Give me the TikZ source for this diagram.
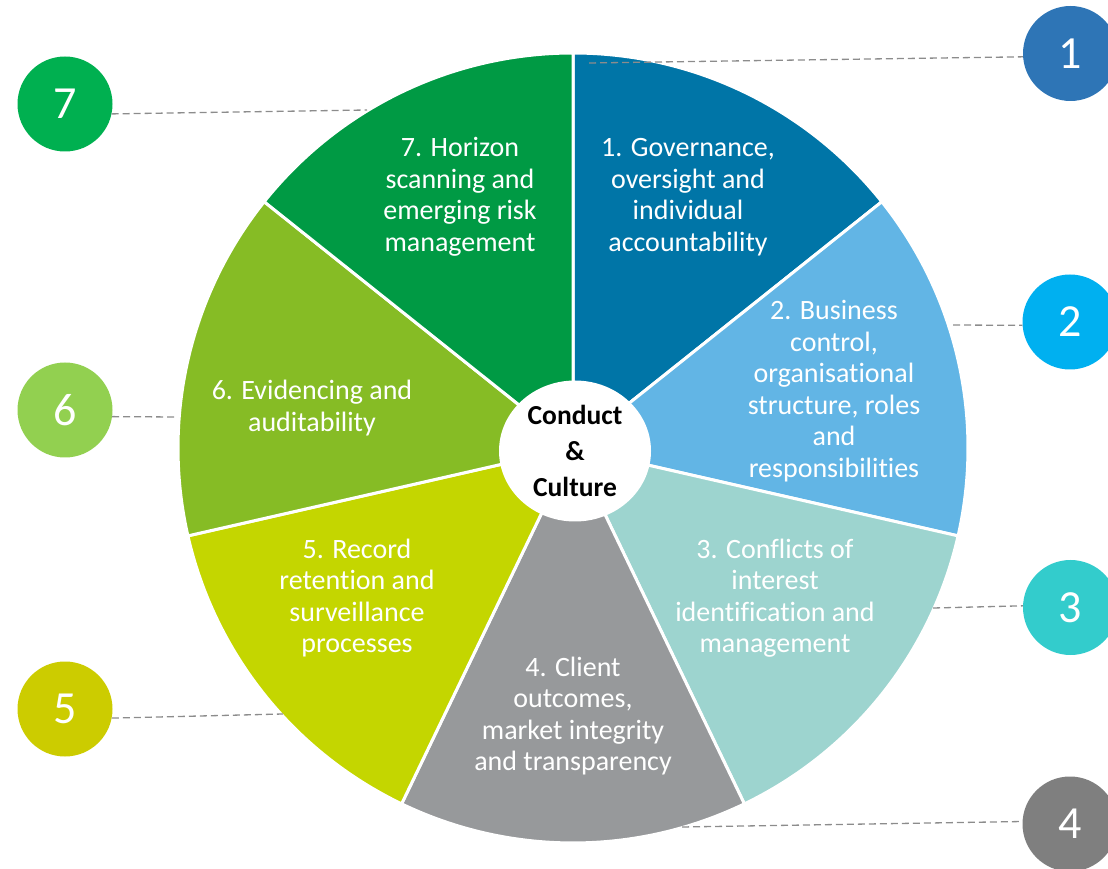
\documentclass[tikz,border=0pt]{standalone}
\usepackage{fontspec}
\setmainfont{Carlito}[Ligatures=NoCommon]
\usetikzlibrary{shapes.geometric}

% wedge colours
\definecolor{wedgeA}{HTML}{0075A7}
\definecolor{wedgeB}{HTML}{62B5E5}
\definecolor{wedgeC}{HTML}{9DD4CF}
\definecolor{wedgeD}{HTML}{97999B}
\definecolor{wedgeE}{HTML}{C4D600}
\definecolor{wedgeF}{HTML}{86BC25}
\definecolor{wedgeG}{HTML}{009A44}
% number badge colours
\definecolor{badgeA}{HTML}{2E75B6}
\definecolor{badgeB}{HTML}{00B0F0}
\definecolor{badgeC}{HTML}{33CCCC}
\definecolor{badgeD}{HTML}{7F7F7F}
\definecolor{badgeE}{HTML}{CCCC00}
\definecolor{badgeF}{HTML}{92D050}
\definecolor{badgeG}{HTML}{00B050}
\definecolor{leadgray}{HTML}{8C8C8C}

\begin{document}
\begin{tikzpicture}[x=1pt,y=1pt,
  pieslice/.style={draw=white, line width=3pt, line join=round},
  segtext/.style={text=white, align=center, inner sep=0pt,
    font=\fontsize{28}{31.5}\selectfont},
  badge/.style={circle, minimum size=95pt, inner sep=0pt, text=white,
    font=\fontsize{46}{50}\selectfont},
  leader/.style={draw=leadgray, line width=1.3pt, dash pattern=on 7pt off 4pt}]

\useasboundingbox (0,0) rectangle (1108,868);
\clip (0,0) rectangle (1108,868);

% pie of seven equal wedges
\coordinate (P) at (573,420);
\path[pieslice, fill=wedgeA] (P) -- ++(38.571:395pt) arc[start angle=38.571, end angle=90, radius=395pt] -- cycle;
\path[pieslice, fill=wedgeB] (P) -- ++(-12.857:395pt) arc[start angle=-12.857, end angle=38.571, radius=395pt] -- cycle;
\path[pieslice, fill=wedgeC] (P) -- ++(-64.286:395pt) arc[start angle=-64.286, end angle=-12.857, radius=395pt] -- cycle;
\path[pieslice, fill=wedgeD] (P) -- ++(-115.714:395pt) arc[start angle=-115.714, end angle=-64.286, radius=395pt] -- cycle;
\path[pieslice, fill=wedgeE] (P) -- ++(-167.143:395pt) arc[start angle=-167.143, end angle=-115.714, radius=395pt] -- cycle;
\path[pieslice, fill=wedgeF] (P) -- ++(141.429:395pt) arc[start angle=141.429, end angle=192.857, radius=395pt] -- cycle;
\path[pieslice, fill=wedgeG] (P) -- ++(90:395pt) arc[start angle=90, end angle=141.429, radius=395pt] -- cycle;

% wedge texts
\node[segtext] (t1) at (688,671) {1. Governance,\\oversight and\\individual\\accountability};
\node[segtext] (t2) at (834,477) {2. Business\\control,\\organisational\\structure, roles\\and\\responsibilities};
\node[segtext] (t3) at (775,270) {3. Conflicts of\\interest\\identification and\\management};
\node[segtext] (t4) at (573,152) {4. Client\\outcomes,\\market integrity\\and transparency};
\node[segtext] (t5) at (357,270) {5. Record\\retention and\\surveillance\\processes};
\node[segtext] (t6) at (312,460) {6. Evidencing and\\auditability};
\node[segtext] (t7) at (460,671) {7. Horizon\\scanning and\\emerging risk\\management};

% hub
\node[ellipse, fill=white, minimum width=152pt, minimum height=141pt, inner sep=0pt,
  align=center, font=\bfseries\fontsize{27.5}{36}\selectfont] (hub) at (575,417)
  {Conduct\\\&\\Culture};

% numbered badges
\node[badge, fill=badgeA] (n1) at (1070.5,814.5) {1};
\node[badge, fill=badgeB] (n2) at (1070,546) {2};
\node[badge, fill=badgeC] (n3) at (1070.5,260.5) {3};
\node[badge, fill=badgeD] (n4) at (1070,44) {4};
\node[badge, fill=badgeE] (n5) at (65,159) {5};
\node[badge, fill=badgeF] (n6) at (65,458) {6};
\node[badge, fill=badgeG] (n7) at (65,764) {7};

% dashed leaders from the pie to the badges
\coordinate (e1) at (589,805);
\coordinate (e2) at (953,543);
\coordinate (e3) at (933,260);
\coordinate (e4) at (682,41);
\coordinate (e5) at (283,154);
\coordinate (e6) at (178,451);
\coordinate (e7) at (367,758);
\draw[leader] (e1) -- (n1.184);
\draw[leader] (e2) -- (n2.184);
\draw[leader] (e3) -- (n3.178);
\draw[leader] (e4) -- (n4.177);
\draw[leader] (n5.-11) -- (e5);
\draw[leader] (n6.-8.5) -- (e6);
\draw[leader] (n7.-12) -- (e7);
\end{tikzpicture}
\end{document}
